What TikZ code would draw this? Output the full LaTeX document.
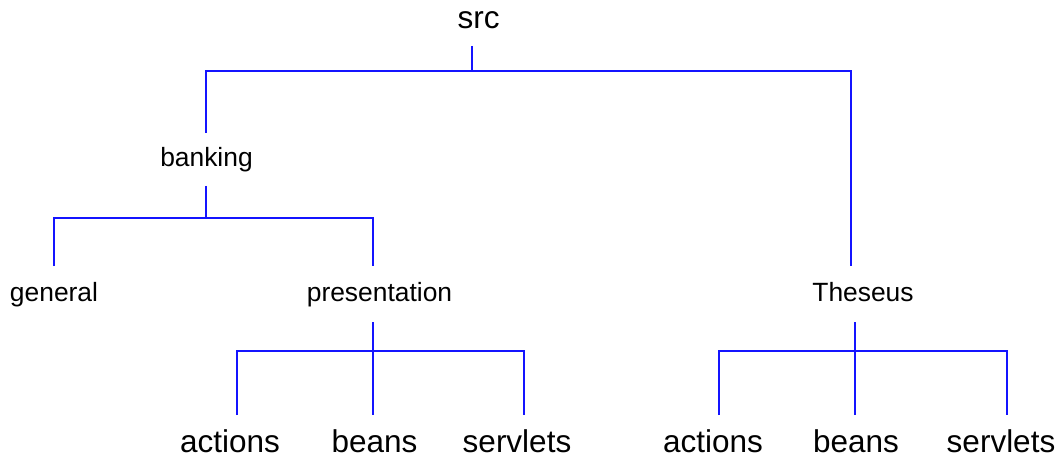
\documentclass[tikz,border=0pt]{standalone}
\usepackage{fontspec}
\setmainfont{Liberation Sans}
\definecolor{linkblue}{RGB}{20,20,255}
\begin{document}
\begin{tikzpicture}[x=1pt,y=-1pt,
  big/.style={font=\fontsize{31.5}{36}\selectfont, anchor=base, inner sep=0pt},
  mid/.style={font=\fontsize{26.4}{30}\selectfont, anchor=base, inner sep=0pt},
  link/.style={draw=linkblue, line width=1.3pt}]
\useasboundingbox (0,0) rectangle (1063,457);

% folder labels
\node[big] (src)          at (478.5,29) {src};
\node[mid] (banking)      at (206.5,167) {banking};
\node[mid] (general)      at (54,301) {general};
\node[mid] (presentation) at (379.5,301) {presentation};
\node[mid] (theseus)      at (863,301) {Theseus};
\node[big] (pactions)     at (230,452) {actions};
\node[big] (pbeans)       at (374.5,452) {beans};
\node[big] (pservlets)    at (517,452) {servlets};
\node[big] (tactions)     at (713,452) {actions};
\node[big] (tbeans)       at (856,452) {beans};
\node[big] (tservlets)    at (1001,452) {servlets};

% connector end points
\coordinate (src-out)   at (472,46);
\coordinate (src-bar)   at (472,71);
\coordinate (bank-in)   at (206,133);
\coordinate (thes-in)   at (851,266);
\coordinate (bank-out)  at (206,186);
\coordinate (bank-bar)  at (206,218);
\coordinate (gen-in)    at (54,266);
\coordinate (pres-in)   at (373,266);
\coordinate (pres-out)  at (373,322);
\coordinate (pres-bar)  at (373,351);
\coordinate (pact-in)   at (237,415);
\coordinate (pbean-in)  at (373,415);
\coordinate (pserv-in)  at (524,415);
\coordinate (thes-out)  at (855,322);
\coordinate (thes-bar)  at (855,351);
\coordinate (tact-in)   at (719,415);
\coordinate (tbean-in)  at (855,415);
\coordinate (tserv-in)  at (1007,415);

% src
\draw[link] (src-out) -- (src-bar);
\draw[link] (bank-in) |- (src-bar) -| (thes-in);
% banking
\draw[link] (bank-out) -- (bank-bar);
\draw[link] (gen-in) |- (bank-bar) -| (pres-in);
% presentation
\draw[link] (pres-out) -- (pbean-in);
\draw[link] (pact-in) |- (pres-bar) -| (pserv-in);
% Theseus
\draw[link] (thes-out) -- (tbean-in);
\draw[link] (tact-in) |- (thes-bar) -| (tserv-in);
\end{tikzpicture}
\end{document}
